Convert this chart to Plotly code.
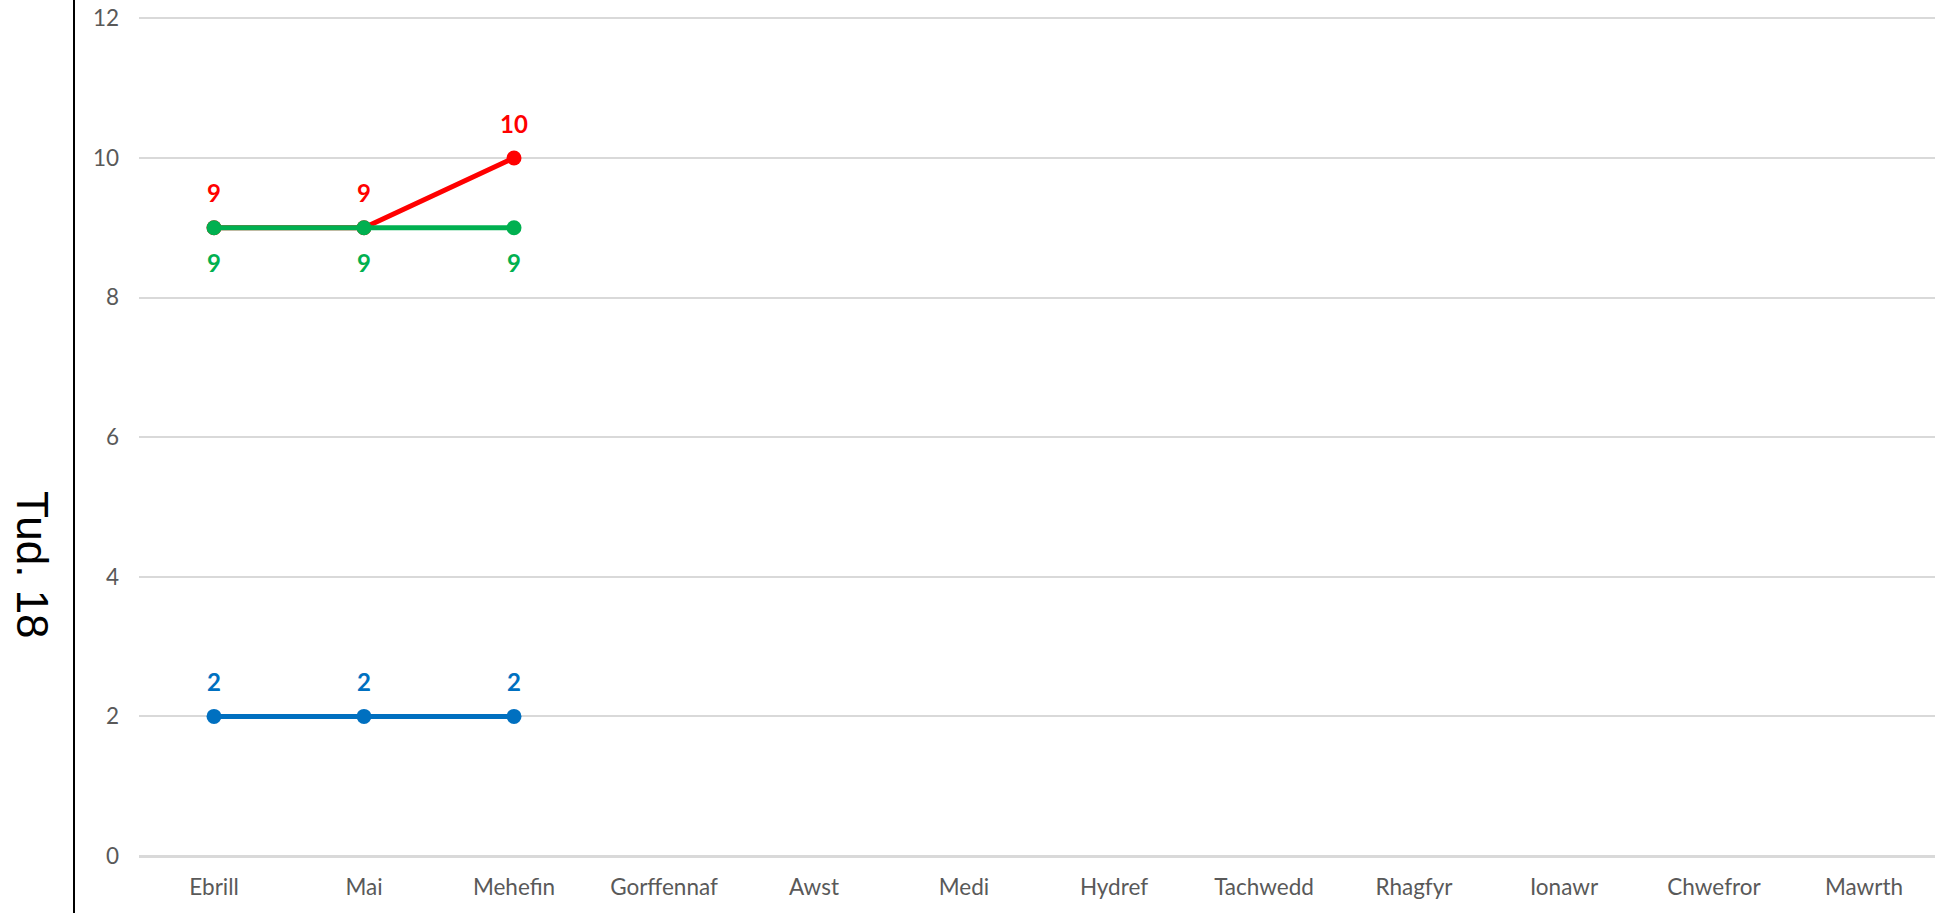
import plotly.graph_objects as go

months = ["Ebrill", "Mai", "Mehefin", "Gorffennaf", "Awst", "Medi",
          "Hydref", "Tachwedd", "Rhagfyr", "Ionawr", "Chwefror", "Mawrth"]
red_vals = [9, 9, 10]
green_vals = [9, 9, 9]
blue_vals = [2, 2, 2]
y_ticks = [0, 2, 4, 6, 8, 10, 12]
side_title = "Tud. 18"

RED = "#FF0000"
GREEN = "#00B050"
BLUE = "#0070C0"
FONT = "Lato"

W, H = 1935, 913
L, T, B = 139, 17, 57
plot_w = W - L
plot_h = H - T - B
cat_px = 150.0

fig = go.Figure()
series = [(red_vals, RED, 1), (green_vals, GREEN, -1), (blue_vals, BLUE, 1)]
for vals, col, _ in series:
    fig.add_trace(go.Scatter(
        x=months[:len(vals)], y=vals, mode="lines+markers",
        line=dict(color=col, width=5), marker=dict(color=col, size=15),
        showlegend=False, hoverinfo="skip"))

annotations = []
for vals, col, side in series:
    for m, v in zip(months, vals):
        annotations.append(dict(
            x=m, y=v, xref="x", yref="y", text=f"<b>{v}</b>", showarrow=False,
            yshift=35 * side, font=dict(family=FONT, size=24, color=col)))

annotations.append(dict(
    x=(33 - L) / plot_w, xref="paper", xanchor="center",
    y=(H - B - 565) / plot_h, yref="paper", yanchor="middle",
    text=side_title, showarrow=False, textangle=90,
    font=dict(family="Liberation Sans, Arial", size=44, color="#000000")))

fig.update_layout(
    width=W, height=H,
    margin=dict(l=L, r=0, t=T, b=B, pad=0),
    paper_bgcolor="white", plot_bgcolor="white",
    font=dict(family=FONT, size=22.5, color="#595959"),
    annotations=annotations,
    xaxis=dict(
        type="category", categoryorder="array", categoryarray=months,
        tickvals=months, ticktext=months,
        range=[-0.5, -0.5 + plot_w / cat_px],
        showgrid=False, showline=False, zeroline=False, ticks="",
        ticklabelstandoff=15, fixedrange=True),
    yaxis=dict(
        range=[0, 12.02], tickvals=y_ticks, ticktext=[str(t) for t in y_ticks],
        showgrid=True, gridcolor="#D9D9D9", gridwidth=2,
        zeroline=True, zerolinecolor="#D9D9D9", zerolinewidth=3,
        showline=False, ticks="", ticklabelstandoff=19, fixedrange=True),
)

fig.add_shape(type="line", xref="paper", yref="paper",
              x0=(74 - L) / plot_w, x1=(74 - L) / plot_w, y0=-0.2, y1=1.2,
              line=dict(color="#000000", width=2))

fig.write_html(
    "out.html", config={"displayModeBar": False},
    post_script="document.body.style.margin='0';document.body.style.overflow='hidden';")
